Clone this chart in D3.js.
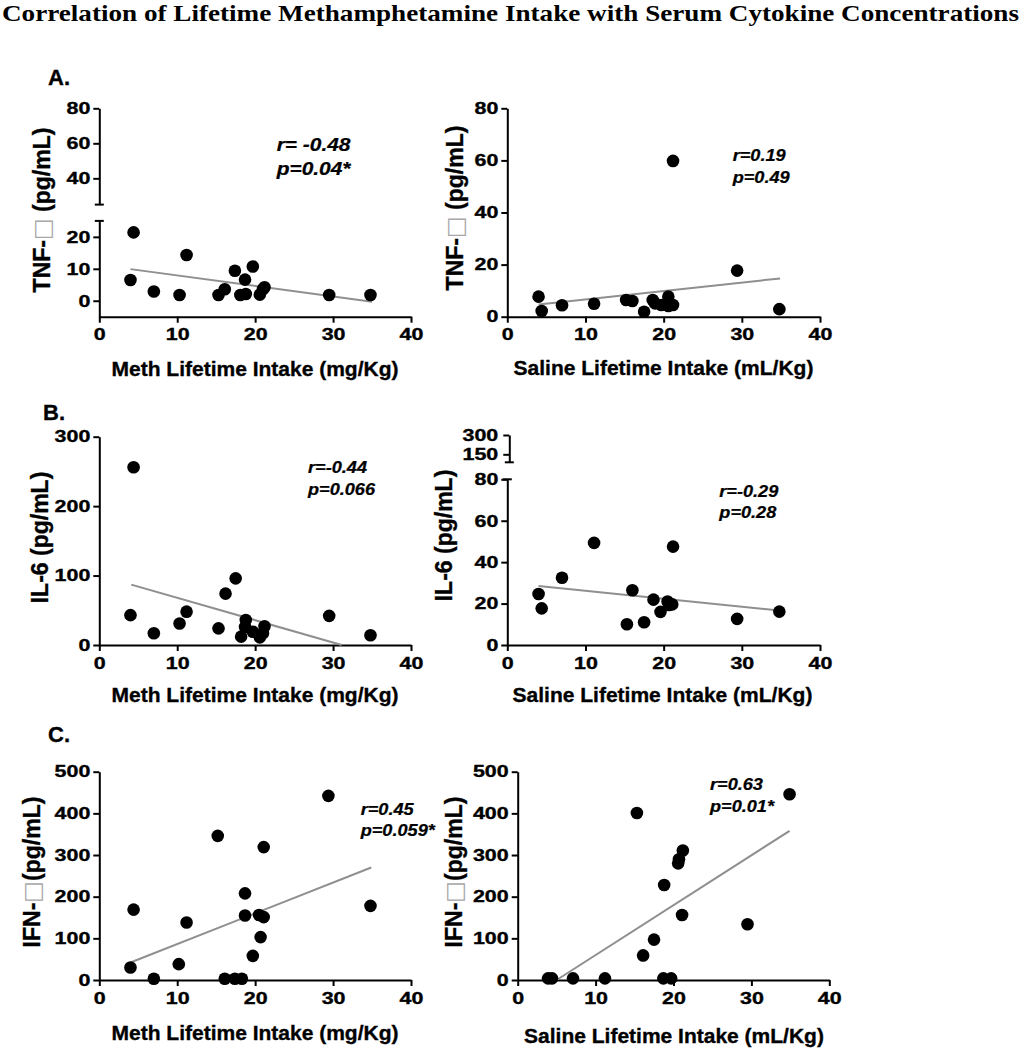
<!DOCTYPE html>
<html><head><meta charset="utf-8">
<script src="https://cdn.jsdelivr.net/npm/d3@7/dist/d3.min.js"></script>
<style>
body{margin:0;background:#fff;}
svg{display:block;}
</style>
</head><body>
<svg id="chart" width="1027" height="1050"></svg>
<script>
// ---------------- DATA ----------------
const chartTitle = "Correlation of Lifetime Methamphetamine Intake with Serum Cytokine Concentrations";
const panelLetters = ["A.", "B.", "C."];
const xTicks = [0, 10, 20, 30, 40];
const xTitles = ["Meth Lifetime Intake (mg/Kg)", "Saline Lifetime Intake (mL/Kg)"];
const yTitles = ["TNF-\u25A1 (pg/mL)", "IL-6 (pg/mL)", "IFN-\u25A1(pg/mL)"];

// A. TNF
const methTnfX = [4.0, 4.4, 7.0, 10.3, 11.2, 15.3, 16.1, 17.4, 18.1, 18.8, 18.7, 19.7, 20.6, 21.0, 21.2, 29.5, 34.8];
const methTnfY = [6.5, 21.4, 2.9, 1.8, 14.3, 1.8, 3.6, 9.4, 1.8, 2.1, 6.6, 10.7, 1.9, 3.6, 4.2, 1.8, 1.8];
const methTnfFit = [[4.0, 9.9], [35.0, -0.3]];
const methTnfTicksUpper = [40, 60, 80];
const methTnfTicksLower = [0, 10, 20];

const salTnfX = [4.0, 4.4, 7.0, 11.1, 15.2, 16.0, 17.5, 18.6, 18.9, 19.7, 20.6, 20.6, 21.2, 21.2, 29.4, 34.8];
const salTnfY = [7.7, 2.2, 4.4, 5.0, 6.4, 6.0, 1.9, 6.4, 5.1, 4.5, 4.1, 7.7, 4.5, 59.8, 17.7, 2.9];
const salTnfFit = [[4.0, 4.7], [34.9, 14.7]];
const salTnfTicks = [0, 20, 40, 60, 80];

// B. IL-6
const methIl6X = [4.0, 4.4, 7.0, 10.3, 11.2, 15.3, 16.2, 17.5, 18.2, 18.8, 18.7, 19.7, 20.6, 21.0, 21.2, 29.5, 34.8];
const methIl6Y = [43, 256, 17, 31, 48, 24, 74, 96, 12, 36, 26, 19, 11, 17, 27, 42, 14];
const methIl6Fit = [[4.1, 87], [31.1, 0]];
const methIl6Ticks = [0, 100, 200, 300];

const salIl6X = [4.0, 4.4, 7.0, 11.1, 15.3, 16.0, 17.5, 18.7, 19.6, 20.5, 20.7, 21.1, 21.2, 29.4, 34.8];
const salIl6Y = [24.6, 17.7, 32.5, 49.3, 10.0, 26.4, 11.0, 21.9, 16.0, 21.0, 19.3, 19.6, 47.5, 12.6, 16.1];
const salIl6Fit = [[4.0, 28.5], [34.8, 16.6]];
const salIl6TicksUpper = [150, 300];
const salIl6TicksLower = [0, 20, 40, 60, 80];

// C. IFN
const methIfnX = [4.0, 4.4, 7.0, 10.2, 11.2, 15.2, 16.1, 17.4, 18.3, 18.7, 18.7, 19.7, 20.7, 20.5, 21.1, 21.1, 29.4, 34.8];
const methIfnY = [30, 169, 3, 38, 138, 346, 3, 3, 3, 208, 155, 58, 103, 156, 151, 319, 442, 178];
const methIfnFit = [[4.0, 42], [34.9, 270]];
const ifnTicks = [0, 100, 200, 300, 400, 500];

const salIfnX = [3.9, 4.4, 7.1, 11.2, 15.3, 16.1, 17.5, 18.8, 18.7, 19.7, 20.6, 20.7, 21.2, 21.1, 29.5, 34.9];
const salIfnY = [4, 4, 4, 4, 401, 59, 97, 228, 4, 4, 280, 290, 311, 156, 134, 446];
const salIfnFit = [[5.0, 0], [34.9, 358]];

const statR = ["r= -0.48", "r=0.19", "r=-0.44", "r=-0.29", "r=0.45", "r=0.63"];
const statP = ["p=0.04*", "p=0.49", "p=0.066", "p=0.28", "p=0.059*", "p=0.01*"];

// ---------------- LAYOUT ----------------
const svg = d3.select("#chart");
const SANS = "'Liberation Sans', Arial, Helvetica, sans-serif";
const TICK_SX = 1.3;
const HEAVY = 0.35;

svg.append("text")
  .attr("x", 510.5).attr("y", 20.5)
  .attr("text-anchor", "middle")
  .attr("font-family", "'Liberation Serif','Times New Roman',serif")
  .attr("font-weight", "bold").attr("font-size", 24)
  .attr("textLength", 1017).attr("lengthAdjust", "spacingAndGlyphs")
  .text(chartTitle);

const letterPos = [[48, 85], [43, 420], [48, 741.5]];
panelLetters.forEach((t, i) => {
  svg.append("text").attr("x", letterPos[i][0]).attr("y", letterPos[i][1])
    .attr("font-family", SANS).attr("font-weight", "bold").attr("font-size", 22)
    .attr("stroke", "#000").attr("stroke-width", HEAVY)
    .text(t);
});

const panels = [
  { xs: methTnfX, ys: methTnfY, fit: methTnfFit, x0: 99.3, x1: 411, axisY: 316.7,
    segs: [
      { dom: [-5, 25], rng: [316.7, 220.9], ticks: methTnfTicksLower, capTop: true },
      { dom: [25, 80], rng: [204.6, 108.3], ticks: methTnfTicksUpper, capBottom: true }
    ],
    xTitle: xTitles[0], xtPos: [255, 376], yTitle: yTitles[0], ytPos: [50, 210],
    stat: 0, statPos: [276.7, 150.7, 175], statSize: 19 },
  { xs: salTnfX, ys: salTnfY, fit: salTnfFit, x0: 507.3, x1: 820, axisY: 316.7,
    segs: [{ dom: [0, 80], rng: [316.7, 108.3], ticks: salTnfTicks }],
    xTitle: xTitles[1], xtPos: [663.5, 374.5], yTitle: yTitles[0], ytPos: [463.3, 208],
    stat: 1, statPos: [732.7, 161, 183.3], statSize: 16.5 },
  { xs: methIl6X, ys: methIl6Y, fit: methIl6Fit, x0: 99.3, x1: 411, axisY: 645,
    segs: [{ dom: [0, 300], rng: [645, 436.7], ticks: methIl6Ticks }],
    xTitle: xTitles[0], xtPos: [255, 701.5], yTitle: yTitles[1], ytPos: [48.3, 537.5],
    stat: 2, statPos: [308, 473.3, 495], statSize: 16.5 },
  { xs: salIl6X, ys: salIl6Y, fit: salIl6Fit, x0: 507.3, x1: 820, axisY: 645,
    segs: [
      { dom: [0, 80], rng: [645, 479.3], ticks: salIl6TicksLower, capTop: true },
      { dom: [88, 300], rng: [462.3, 435], ticks: salIl6TicksUpper, capBottom: true, dx: 2 }
    ],
    xTitle: xTitles[1], xtPos: [662.5, 701.5], yTitle: yTitles[1], ytPos: [451.7, 535.5],
    stat: 3, statPos: [719.3, 496.7, 518.3], statSize: 16.5 },
  { xs: methIfnX, ys: methIfnY, fit: methIfnFit, x0: 99.3, x1: 411, axisY: 980,
    segs: [{ dom: [0, 500], rng: [980, 771.7], ticks: ifnTicks }],
    xTitle: xTitles[0], xtPos: [255, 1040], yTitle: yTitles[2], ytPos: [40, 872],
    stat: 4, statPos: [360.7, 815, 836], statSize: 16.5 },
  { xs: salIfnX, ys: salIfnY, fit: salIfnFit, x0: 517.7, x1: 829.3, axisY: 980,
    segs: [{ dom: [0, 500], rng: [980, 771.7], ticks: ifnTicks }],
    xTitle: xTitles[1], xtPos: [674, 1043], yTitle: yTitles[2], ytPos: [461.7, 872],
    stat: 5, statPos: [710, 790, 811.7], statSize: 16.5 }
];

function styleTicks(sel) {
  sel.select(".domain").attr("stroke", "#000").attr("stroke-width", 2);
  sel.selectAll(".tick line").attr("stroke", "#000").attr("stroke-width", 2);
  sel.selectAll(".tick text")
    .attr("fill", "#000").attr("stroke", "#000").attr("stroke-width", HEAVY)
    .attr("font-family", SANS).attr("font-weight", "bold").attr("font-size", 16.5);
}

panels.forEach(p => {
  const g = svg.append("g");
  const x = d3.scaleLinear().domain([0, 40]).range([p.x0, p.x1]);
  const segScales = p.segs.map(s => d3.scaleLinear().domain(s.dom).range(s.rng));
  const yMap = v => {
    for (let i = 0; i < p.segs.length; i++) {
      const s = p.segs[i];
      if (v >= s.dom[0] && v <= s.dom[1]) return segScales[i](v);
    }
    return segScales[0](v);
  };

  // y-axis segments
  p.segs.forEach((s, i) => {
    const ax = g.append("g").attr("transform", `translate(${p.x0 + (s.dx || 0)},0)`)
      .call(d3.axisLeft(segScales[i]).tickValues(s.ticks).tickSize(6).tickSizeOuter(0).tickPadding(3));
    styleTicks(ax);
    ax.selectAll(".tick text").attr("x", -(9 + (s.dx || 0)) / TICK_SX)
      .attr("transform", `scale(${TICK_SX},1)`);
    const capW = 4.5;
    if (s.capTop) ax.append("line").attr("x1", -capW).attr("x2", capW)
      .attr("y1", s.rng[1]).attr("y2", s.rng[1]).attr("stroke", "#000").attr("stroke-width", 2);
    if (s.capBottom) ax.append("line").attr("x1", -capW).attr("x2", capW)
      .attr("y1", s.rng[0]).attr("y2", s.rng[0]).attr("stroke", "#000").attr("stroke-width", 2);
  });

  // x-axis
  const xa = g.append("g").attr("transform", `translate(0,${p.axisY})`)
    .call(d3.axisBottom(x).tickValues(xTicks).tickSize(6).tickSizeOuter(0).tickPadding(6));
  styleTicks(xa);
  xa.selectAll(".tick text").attr("transform", `scale(${TICK_SX},1)`);

  // regression line
  g.append("path")
    .datum(p.fit)
    .attr("d", d3.line().x(d => x(d[0])).y(d => yMap(d[1])))
    .attr("fill", "none").attr("stroke", "#8f8f8f").attr("stroke-width", 2);

  // points
  g.selectAll("circle.pt").data(p.xs.map((xv, i) => [xv, p.ys[i]])).enter()
    .append("circle").attr("class", "pt")
    .attr("cx", d => x(d[0])).attr("cy", d => yMap(d[1])).attr("r", 6.3)
    .attr("fill", "#000");

  // x title
  g.append("text").attr("x", p.xtPos[0]).attr("y", p.xtPos[1])
    .attr("text-anchor", "middle").attr("font-family", SANS)
    .attr("stroke", "#000").attr("stroke-width", HEAVY)
    .attr("font-weight", "bold").attr("font-size", 21).text(p.xTitle);

  // y title
  const yt = g.append("text")
    .attr("transform", `translate(${p.ytPos[0]},${p.ytPos[1]}) rotate(-90)`)
    .attr("text-anchor", "middle").attr("font-family", SANS)
    .attr("font-weight", "bold").attr("font-size", 23);
  const parts = p.yTitle.split("\u25A1");
  parts.forEach((part, i) => {
    yt.append("tspan").attr("stroke", "#000").attr("stroke-width", HEAVY).text(part);
    if (i < parts.length - 1) {
      yt.append("tspan").attr("font-family", "'DejaVu Sans', sans-serif")
        .attr("font-weight", "normal").attr("fill", "#a8a8a8").text("\u25A1");
    }
  });

  // stats
  [statR[p.stat], statP[p.stat]].forEach((t, i) => {
    g.append("text")
      .attr("transform", `translate(${p.statPos[0]},${p.statPos[1 + i]}) scale(1.1,1)`)
      .attr("font-family", SANS).attr("font-weight", "bold").attr("font-style", "italic")
      .attr("stroke", "#000").attr("stroke-width", 0.25)
      .attr("font-size", p.statSize).text(t);
  });
});
</script>
</body></html>
